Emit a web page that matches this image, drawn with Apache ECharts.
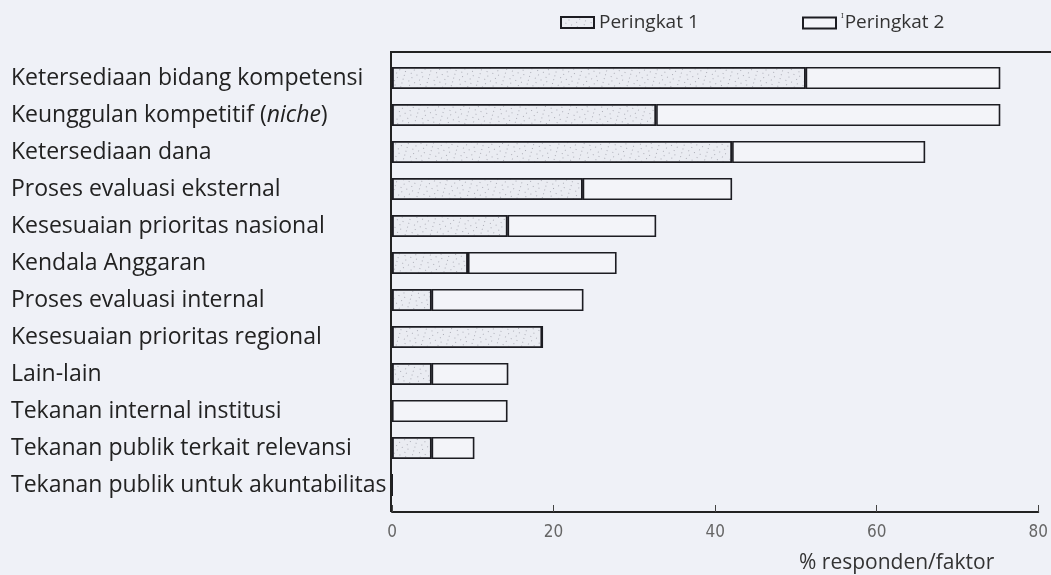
<!DOCTYPE html>
<html>
<head>
<meta charset="utf-8">
<script src="https://cdn.jsdelivr.net/npm/echarts@6/dist/echarts.min.js"></script>
<style>
html,body{margin:0;padding:0;background:#eff1f7;}
#chart{width:1051px;height:575px;}
</style>
</head>
<body>
<div id="chart"></div>
<script>
const categories = [
  'Ketersediaan bidang kompetensi',
  'Keunggulan kompetitif (niche)',
  'Ketersediaan dana',
  'Proses evaluasi eksternal',
  'Kesesuaian prioritas nasional',
  'Kendala Anggaran',
  'Proses evaluasi internal',
  'Kesesuaian prioritas regional',
  'Lain-lain',
  'Tekanan internal institusi',
  'Tekanan publik terkait relevansi',
  'Tekanan publik untuk akuntabilitas'
];
const peringkat1 = [51.2, 32.7, 42.1, 23.6, 14.3, 9.4, 4.9, 18.6, 4.9, 0, 4.9, 0];
const peringkat2 = [24.1, 42.6, 23.9, 18.5, 18.4, 18.4, 18.8, 0, 9.5, 14.3, 5.3, 0];
const xTicks = [0, 20, 40, 60, 80];
const seriesNames = ['Peringkat 1', 'Peringkat 2'];

const chart = echarts.init(document.getElementById('chart'));
const labelFont = '"Open Sans", "Noto Sans", sans-serif';

chart.setOption({
  backgroundColor: '#eff1f7',
  animation: false,
  legend: [
    {
      data: [seriesNames[0]], left: 555, top: 8, itemWidth: 33, itemHeight: 11, icon: 'rect',
      textStyle: { fontFamily: labelFont, fontSize: 19, color: '#333' }
    },
    {
      data: [seriesNames[1]], left: 797, top: 8, itemWidth: 33, itemHeight: 11, icon: 'rect',
      formatter: n => '{s|ᴵ}' + n,
      textStyle: { fontFamily: labelFont, fontSize: 19, color: '#333',
        rich: { s: { fontFamily: labelFont, fontSize: 12, color: '#333', verticalAlign: 'top', padding: [0, 1, 8, 0] } } }
    }
  ],
  title: {
    text: '% responden/faktor', left: 794, top: 548,
    textStyle: { fontFamily: labelFont, fontSize: 21, fontWeight: 'normal', color: '#333' }
  },
  grid: { left: 392, right: 11, top: 59.5, bottom: 71.5, containLabel: false },
  xAxis: {
    type: 'value', min: 0, max: 80, interval: 20, offset: 8.5,
    axisLine: { show: true, lineStyle: { color: '#222', width: 2 } },
    axisTick: { show: true, inside: true, length: 7, lineStyle: { color: '#444' } },
    splitLine: { show: false },
    axisLabel: {
      margin: 12, color: '#666', fontSize: 17,
      fontFamily: '"Liberation Sans Narrow", "DejaVu Sans Condensed", sans-serif',
      formatter: v => xTicks.includes(v) ? String(v) : ''
    }
  },
  yAxis: {
    type: 'category', data: categories, inverse: true,
    axisLine: { show: false }, axisTick: { show: false },
    axisLabel: {
      align: 'left', margin: 381, color: '#222', fontSize: 23, fontFamily: labelFont,
      formatter: v => v === 'Keunggulan kompetitif (niche)' ? 'Keunggulan kompetitif ({i|niche})' : v,
      rich: { i: { fontStyle: 'italic', fontFamily: labelFont, fontSize: 23, color: '#222' } }
    }
  },
  graphic: [
    { type: 'polyline', silent: true, z: 10,
      shape: { points: [[391, 512], [391, 52], [1051, 52]] },
      style: { stroke: '#222', lineWidth: 2, fill: null } }
  ],
  series: [
    {
      name: seriesNames[0], type: 'bar', stack: 'total', barWidth: 22,
      data: peringkat1,
      itemStyle: {
        color: '#eaecf2', borderColor: '#1c1c22', borderWidth: 1.6,
        decal: { symbol: 'rect', symbolSize: 1, dashArrayX: [[1, 5], [1, 7]], dashArrayY: [1, 3], color: 'rgba(80,80,95,0.4)', rotation: 0.3 }
      }
    },
    {
      name: seriesNames[1], type: 'bar', stack: 'total', barWidth: 22,
      data: peringkat2,
      itemStyle: { color: '#f3f4f9', borderColor: '#1c1c22', borderWidth: 1.6 }
    }
  ]
});
</script>
</body>
</html>
